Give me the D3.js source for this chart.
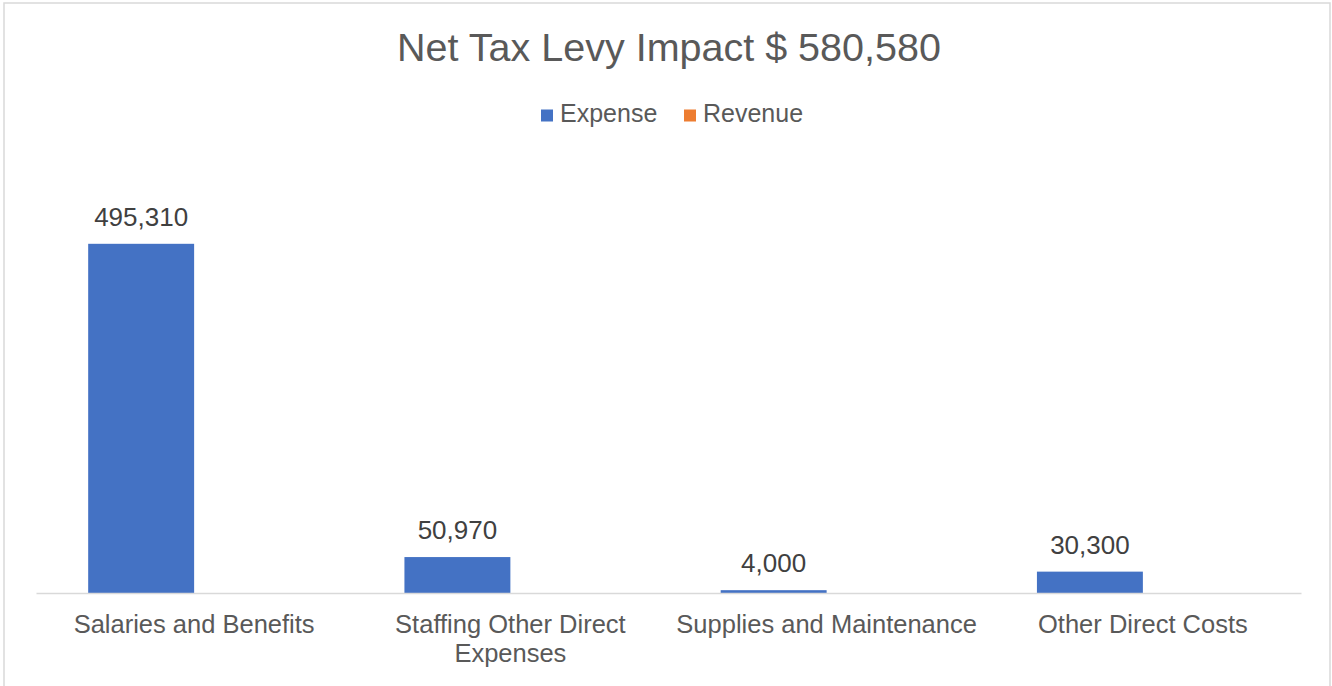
<!DOCTYPE html>
<html>
<head>
<meta charset="utf-8">
<script src="https://cdn.jsdelivr.net/npm/d3@7"></script>
<style>
  body { margin: 0; background: #fff; }
  svg { display: block; font-family: "Liberation Sans", Arial, sans-serif; }
</style>
</head>
<body>
<svg id="chart" width="1332" height="686"></svg>
<script>
// chart values
var categories = ["Salaries and Benefits", "Staffing Other Direct Expenses", "Supplies and Maintenance", "Other Direct Costs"];
var seriesNames = ["Expense", "Revenue"];
var expense = [495310, 50970, 4000, 30300];
var revenue = [0, 0, 0, 0];
var colors = ["#4472C4", "#ED7D31"];
var titleText = "Net Tax Levy Impact $ 580,580";

var svg = d3.select("#chart");

// outer frame
svg.append("rect")
    .attr("x", 4).attr("y", 3)
    .attr("width", 1326).attr("height", 700)
    .attr("fill", "#fff")
    .attr("stroke", "#d9d9d9")
    .attr("stroke-width", 1.5);

var plotLeft = 36, plotRight = 1301, plotBase = 593, plotTop = 170;

var x0 = d3.scaleBand().domain(categories).range([plotLeft, plotRight]).padding(0);
var x1 = d3.scaleBand().domain(seriesNames)
    .range([x0.bandwidth() * 0.165, x0.bandwidth() * 0.835]).padding(0);
var y = d3.scaleLinear().domain([0, 600000]).range([plotBase, plotTop]);

var rows = categories.map(function (c, i) {
    return { cat: c, values: [expense[i], revenue[i]] };
});

// bars
var group = svg.selectAll(".cat")
    .data(rows)
    .enter().append("g")
    .attr("class", "cat")
    .attr("transform", function (d) { return "translate(" + x0(d.cat) + ",0)"; });

group.selectAll("rect")
    .data(function (d) { return d.values.map(function (v, k) { return { s: seriesNames[k], v: v, k: k }; }); })
    .enter().append("rect")
    .attr("x", function (d) { return x1(d.s); })
    .attr("width", x1.bandwidth())
    .attr("y", function (d) { return y(d.v); })
    .attr("height", function (d) { return plotBase - y(d.v); })
    .attr("fill", function (d) { return colors[d.k]; });

// data labels (expense only, revenue is empty)
var fmt = d3.format(",");
group.selectAll(".lbl")
    .data(function (d) { return d.values.map(function (v, k) { return { s: seriesNames[k], v: v }; }).filter(function (d) { return d.v > 0; }); })
    .enter().append("text")
    .attr("class", "lbl")
    .attr("x", function (d) { return x1(d.s) + x1.bandwidth() / 2; })
    .attr("y", function (d) { return y(d.v) - 18; })
    .attr("text-anchor", "middle")
    .attr("font-size", "26px")
    .attr("fill", "#404040")
    .text(function (d) { return fmt(d.v); });

// category axis
var axis = svg.append("g")
    .attr("transform", "translate(0," + plotBase + ")")
    .call(d3.axisBottom(x0).tickSize(0).tickPadding(22));

axis.select(".domain")
    .attr("stroke", "#d9d9d9")
    .attr("stroke-width", 1.5);

axis.selectAll(".tick text")
    .attr("font-size", "25.5px")
    .attr("font-family", "Liberation Sans, Arial, sans-serif")
    .attr("fill", "#595959")
    .call(wrap, x0.bandwidth() - 10);

function wrap(texts, width) {
    texts.each(function () {
        var text = d3.select(this);
        var words = text.text().split(/\s+/);
        var yy = text.attr("y");
        var dy = parseFloat(text.attr("dy"));
        text.text(null);
        var line = [];
        var lineNo = 0;
        var tspan = text.append("tspan").attr("x", 0).attr("y", yy).attr("dy", dy + "em");
        words.forEach(function (w) {
            line.push(w);
            tspan.text(line.join(" "));
            if (tspan.node().getComputedTextLength() > width && line.length > 1) {
                line.pop();
                tspan.text(line.join(" "));
                line = [w];
                lineNo++;
                tspan = text.append("tspan").attr("x", 0).attr("y", yy)
                    .attr("dy", (dy + lineNo * 1.14) + "em").text(w);
            }
        });
    });
}

// title
svg.append("text")
    .attr("x", 669).attr("y", 61)
    .attr("text-anchor", "middle")
    .attr("font-size", "39.5px")
    .attr("fill", "#595959")
    .text(titleText);

// legend
var legendX = [541, 684];
var legend = svg.selectAll(".legend")
    .data(seriesNames)
    .enter().append("g")
    .attr("class", "legend")
    .attr("transform", function (d, i) { return "translate(" + legendX[i] + ",0)"; });

legend.append("rect")
    .attr("x", 0).attr("y", 109.5)
    .attr("width", 12).attr("height", 12)
    .attr("fill", function (d, i) { return colors[i]; });

legend.append("text")
    .attr("x", 19).attr("y", 122)
    .attr("font-size", "25px")
    .attr("fill", "#595959")
    .text(function (d) { return d; });
</script>
</body>
</html>
